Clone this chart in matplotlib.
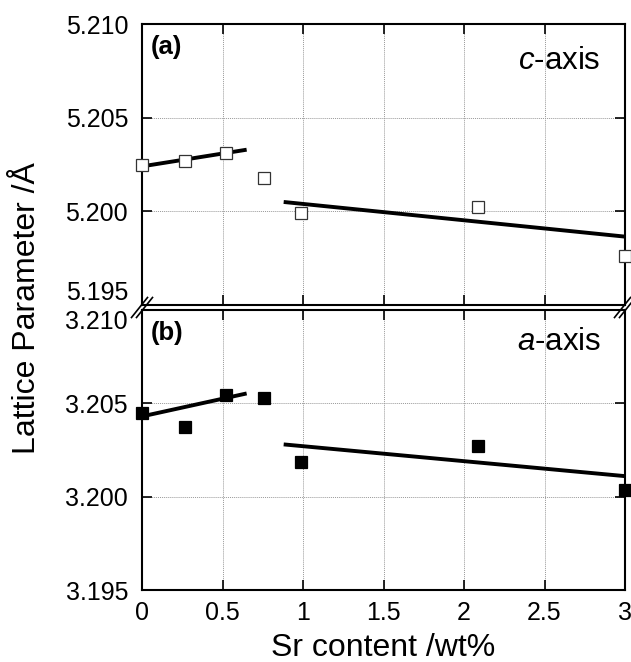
"""Lattice parameters of the c- and a-axis versus Sr content (broken y-axis)."""

import matplotlib as mpl
import matplotlib.pyplot as plt
from matplotlib.lines import Line2D

# measured points
SR_CONTENT = [0.0, 0.27, 0.52, 0.76, 0.99, 2.09, 3.0]
C_AXIS = [5.20248, 5.20267, 5.20310, 5.20177, 5.19990, 5.20022, 5.19764]
A_AXIS = [3.20450, 3.20375, 3.20543, 3.20530, 3.20184, 3.20270, 3.20034]

# fitted trend segments (x ends, y ends)
C_FIT_LOW_X = [0.0, 0.65]
C_FIT_LOW_Y = [5.20240, 5.20329]
C_FIT_HIGH_X = [0.88, 3.0]
C_FIT_HIGH_Y = [5.20050, 5.19865]
A_FIT_LOW_X = [0.0, 0.65]
A_FIT_LOW_Y = [3.20430, 3.20553]
A_FIT_HIGH_X = [0.88, 3.0]
A_FIT_HIGH_Y = [3.20280, 3.20110]

X_TICKS = [0, 0.5, 1, 1.5, 2, 2.5, 3]
X_TICK_LABELS = ["0", "0.5", "1", "1.5", "2", "2.5", "3"]
C_TICKS = [5.195, 5.200, 5.205, 5.210]
A_TICKS = [3.195, 3.200, 3.205, 3.210]

mpl.rcParams.update(
    {
        "font.family": ["Liberation Sans", "DejaVu Sans"],
        "mathtext.fontset": "custom",
        "mathtext.rm": "Liberation Sans",
        "mathtext.it": "Liberation Sans:italic",
        "font.size": 18,
        "xtick.labelsize": 18,
        "ytick.labelsize": 18,
        "axes.linewidth": 1.5,
        "xtick.direction": "in",
        "ytick.direction": "in",
        "xtick.major.size": 7,
        "ytick.major.size": 7,
        "xtick.major.width": 1.2,
        "ytick.major.width": 1.2,
        "xtick.top": True,
        "ytick.right": True,
    }
)

W, H = 631, 662
fig = plt.figure(figsize=(W / 100, H / 100), dpi=100)
left, right = 142 / W, 625 / W
ax_c = fig.add_axes([left, 1 - 305 / H, right - left, (305 - 24) / H])
ax_a = fig.add_axes([left, 1 - 590 / H, right - left, (590 - 310) / H])

panels = [
    (ax_c, C_AXIS, C_TICKS, C_FIT_LOW_X, C_FIT_LOW_Y, C_FIT_HIGH_X, C_FIT_HIGH_Y, "white"),
    (ax_a, A_AXIS, A_TICKS, A_FIT_LOW_X, A_FIT_LOW_Y, A_FIT_HIGH_X, A_FIT_HIGH_Y, "black"),
]
for ax, vals, ticks, lx, ly, hx, hy, face in panels:
    ax.plot(lx, ly, color="black", linewidth=2.8, solid_capstyle="butt", zorder=2)
    ax.plot(hx, hy, color="black", linewidth=2.8, solid_capstyle="butt", zorder=2)
    ax.plot(
        SR_CONTENT,
        vals,
        linestyle="none",
        marker="s",
        markersize=9 if face == "white" else 8.5,
        markerfacecolor=face,
        markeredgecolor="#333333" if face == "white" else "black",
        markeredgewidth=0.9,
        clip_on=False,
        zorder=3,
    )
    ax.set_xlim(0, 3)
    ax.set_ylim(ticks[0], ticks[-1])
    ax.set_yticks(ticks)
    ax.set_yticklabels([f"{t:.3f}" for t in ticks])
    ax.set_xticks(X_TICKS)
    ax.tick_params(axis="y", pad=10)
    ax.grid(True, color="#999999", linestyle=(0, (1, 1)), linewidth=0.7)
    ax.set_axisbelow(True)

ax_c.tick_params(axis="x", labelbottom=False)
ax_a.set_xticklabels(X_TICK_LABELS)
ax_a.tick_params(axis="x", pad=8)
ax_a.set_xlabel("Sr content /wt%", fontsize=23, labelpad=6)

# keep the labels at the break apart
ax_c.yaxis.get_major_ticks()[0].label1.set_verticalalignment("bottom")
ax_a.yaxis.get_major_ticks()[-1].label1.set_verticalalignment("top")

ax_c.text(0.018, 0.962, "(a)", transform=ax_c.transAxes, fontsize=18.5,
          fontweight="bold", va="top", ha="left")
ax_a.text(0.018, 0.962, "(b)", transform=ax_a.transAxes, fontsize=18.5,
          fontweight="bold", va="top", ha="left")
ax_c.text(0.95, 0.87, r"$\mathit{c}$-axis", transform=ax_c.transAxes,
          fontsize=22.5, ha="right", va="center")
ax_a.text(0.95, 0.885, r"$\mathit{a}$-axis", transform=ax_a.transAxes,
          fontsize=22.5, ha="right", va="center")

fig.text(27 / W, 1 - 308 / H, "Lattice Parameter /Å", rotation=90,
         fontsize=23, ha="center", va="center")

# break marks at both ends of the gap
y_mid = 307.5
for x0 in (142, 625):
    for off in (-2.5, 2.5):
        xs = [(x0 + off - 8) / W, (x0 + off + 8) / W]
        ys = [1 - (y_mid + 10) / H, 1 - (y_mid - 10) / H]
        fig.add_artist(Line2D(xs, ys, color="black", linewidth=1.2))

fig.savefig("out.png", dpi=100)
